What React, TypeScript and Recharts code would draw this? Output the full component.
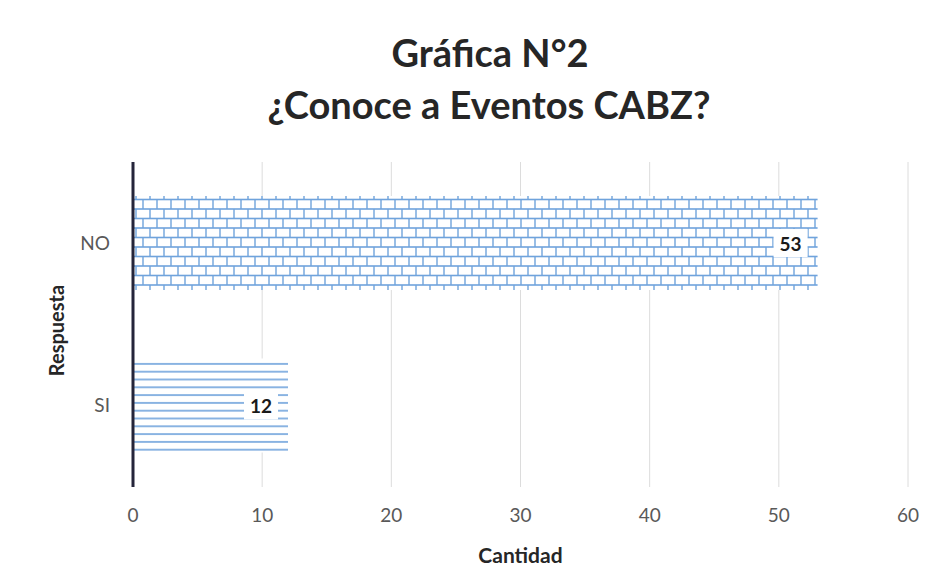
import React from "react";
import { BarChart, Bar, XAxis, YAxis, CartesianGrid, Cell, LabelList } from "recharts";

const categories = ["NO", "SI"];
const values = [53, 12];
const xTicks = [0, 10, 20, 30, 40, 50, 60];
const fills = ["url(#brick)", "url(#hlines)"];

const data = categories.map((c, i) => ({ name: c, value: values[i] }));

const BLUE = "#6fa3dc";
const FONT = "Lato, 'Open Sans', sans-serif";

const ValueLabel = (props: any) => {
  const { x, y, width, height, value } = props;
  const cx = x + width - 27;
  const cy = y + height / 2;
  return (
    <g>
      <rect x={cx - 17} y={cy - 14} width={34} height={28} fill="#ffffff" />
      <text x={cx} y={cy} textAnchor="middle" dominantBaseline="central" fontFamily={FONT} fontWeight={700} fontSize={19} fill="#1a1a1a">
        {value}
      </text>
    </g>
  );
};

export default function App() {
  return (
    <div style={{ position: "absolute", left: 0, top: 0, width: 938, height: 587, background: "#ffffff" }}>
      <BarChart
        width={938}
        height={587}
        data={data}
        layout="vertical"
        margin={{ top: 162, right: 30, left: 0, bottom: 0 }}
        barSize={94}
      >
        <defs>
          <pattern id="brick" patternUnits="userSpaceOnUse" width={14} height={19} x={133} y={195}>
            <rect x={0} y={0} width={14} height={19} fill="#ffffff" />
            <line x1={0} y1={4.5} x2={14} y2={4.5} stroke={BLUE} strokeWidth={1.6} />
            <line x1={0} y1={14} x2={14} y2={14} stroke={BLUE} strokeWidth={1.6} />
            <line x1={3} y1={0} x2={3} y2={4.5} stroke={BLUE} strokeWidth={1.4} />
            <line x1={10} y1={4.5} x2={10} y2={14} stroke={BLUE} strokeWidth={1.4} />
            <line x1={3} y1={14} x2={3} y2={19} stroke={BLUE} strokeWidth={1.4} />
          </pattern>
          <pattern id="hlines" patternUnits="userSpaceOnUse" width={10} height={7.8} x={133} y={360}>
            <rect x={0} y={0} width={10} height={7.8} fill="#ffffff" />
            <line x1={0} y1={3.9} x2={10} y2={3.9} stroke={BLUE} strokeWidth={1.6} />
          </pattern>
        </defs>
        <CartesianGrid horizontal={false} vertical={true} stroke="#dcdcdc" />
        <XAxis
          type="number"
          domain={[0, 60]}
          ticks={xTicks}
          axisLine={false}
          tickLine={false}
          tickSize={0}
          tickMargin={22}
          height={100}
          tick={{ fill: "#595959", fontSize: 19, fontFamily: FONT }}
          label={{ value: "Cantidad", position: "insideTop", dy: 56, fill: "#262626", fontSize: 21, fontWeight: 700, fontFamily: FONT }}
        />
        <YAxis
          type="category"
          dataKey="name"
          width={133}
          axisLine={{ stroke: "#25253a", strokeWidth: 3 }}
          tickLine={false}
          tickSize={0}
          tickMargin={23}
          tick={{ fill: "#595959", fontSize: 19, fontFamily: FONT }}
          label={{ value: "Respuesta", angle: -90, position: "insideLeft", dx: 52, dy: 6, fill: "#262626", fontSize: 20, fontWeight: 700, fontFamily: FONT, style: { textAnchor: "middle" } }}
        />
        <Bar dataKey="value" isAnimationActive={false}>
          {data.map((d, i) => (
            <Cell key={d.name} fill={fills[i]} />
          ))}
          <LabelList dataKey="value" content={ValueLabel} />
        </Bar>
      </BarChart>
      <svg width={938} height={160} style={{ position: "absolute", left: 0, top: 0, pointerEvents: "none" }}>
        <text x={490} y={67} textAnchor="middle" fontFamily={FONT} fontWeight={700} fontSize={38} fill="#262626">
          Gráfica N°2
        </text>
        <text x={489} y={119} textAnchor="middle" fontFamily={FONT} fontWeight={700} fontSize={38} fill="#262626">
          ¿Conoce a Eventos CABZ?
        </text>
      </svg>
    </div>
  );
}
